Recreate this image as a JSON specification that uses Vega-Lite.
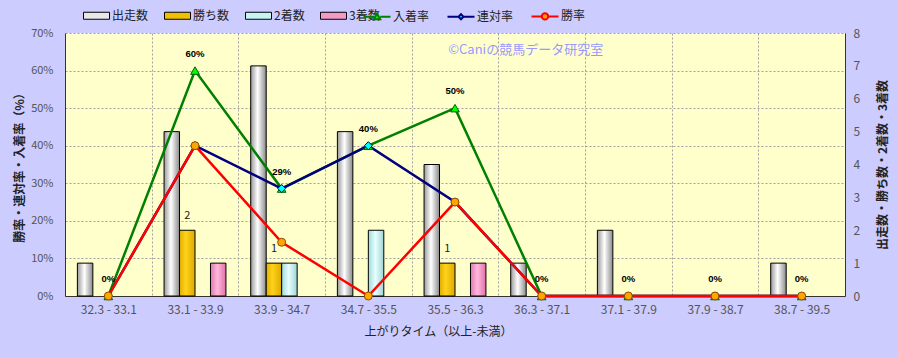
{
  "$schema": "https://vega.github.io/schema/vega-lite/v6.json",
  "width": 780,
  "height": 263,
  "autosize": {"type": "none"},
  "padding": {"left": 65, "top": 33, "right": 53, "bottom": 62},
  "background": "#ccccff",
  "config": {
    "view": {"fill": "#ffffcc", "stroke": null},
    "font": "Noto Sans CJK JP",
    "axis": {
      "labelFont": "Noto Sans CJK JP",
      "titleFont": "Noto Sans CJK JP",
      "domainColor": "#333333",
      "tickColor": "#333333",
      "labelColor": "#555555",
      "titleColor": "#222222",
      "gridColor": "#a0a0a0",
      "gridDash": [2, 2],
      "labelOverlap": false
    }
  },
  "data": {
    "values": [
      {"cat": "32.3 - 33.1", "出走数": 1, "勝ち数": 0, "2着数": 0, "3着数": 0, "入着率": 0, "連対率": 0, "勝率": 0},
      {"cat": "33.1 - 33.9", "出走数": 5, "勝ち数": 2, "2着数": 0, "3着数": 1, "入着率": 0.6, "連対率": 0.4, "勝率": 0.4},
      {"cat": "33.9 - 34.7", "出走数": 7, "勝ち数": 1, "2着数": 1, "3着数": 0, "入着率": 0.286, "連対率": 0.286, "勝率": 0.143},
      {"cat": "34.7 - 35.5", "出走数": 5, "勝ち数": 0, "2着数": 2, "3着数": 0, "入着率": 0.4, "連対率": 0.4, "勝率": 0},
      {"cat": "35.5 - 36.3", "出走数": 4, "勝ち数": 1, "2着数": 0, "3着数": 1, "入着率": 0.5, "連対率": 0.25, "勝率": 0.25},
      {"cat": "36.3 - 37.1", "出走数": 1, "勝ち数": 0, "2着数": 0, "3着数": 0, "入着率": 0, "連対率": 0, "勝率": 0},
      {"cat": "37.1 - 37.9", "出走数": 2, "勝ち数": 0, "2着数": 0, "3着数": 0, "入着率": 0, "連対率": 0, "勝率": 0},
      {"cat": "37.9 - 38.7", "出走数": 0, "勝ち数": 0, "2着数": 0, "3着数": 0, "入着率": 0, "連対率": 0, "勝率": 0},
      {"cat": "38.7 - 39.5", "出走数": 1, "勝ち数": 0, "2着数": 0, "3着数": 0, "入着率": 0, "連対率": 0, "勝率": 0}
    ]
  },
  "layer": [
    {
      "transform": [
        {"fold": ["出走数", "勝ち数", "2着数", "3着数"], "as": ["series", "count"]},
        {"filter": "datum.count > 0"}
      ],
      "layer": [
        {
          "transform": [{"filter": "datum.series === '出走数'"}],
          "mark": {"type": "bar", "stroke": "#000000", "strokeWidth": 1,
            "color": {"gradient": "linear", "x1": 0, "y1": 0, "x2": 1, "y2": 0, "stops": [{"offset": 0, "color": "#9a9a9a"}, {"offset": 0.45, "color": "#ffffff"}, {"offset": 1, "color": "#8a8a8a"}]}},
          "encoding": {
            "x": {
              "field": "cat",
              "type": "nominal",
              "scale": {
                "domain": ["32.3 - 33.1", "33.1 - 33.9", "33.9 - 34.7", "34.7 - 35.5", "35.5 - 36.3", "36.3 - 37.1", "37.1 - 37.9", "37.9 - 38.7", "38.7 - 39.5"],
                "paddingInner": 0,
                "paddingOuter": 0
              },
              "axis": {
                "title": "上がりタイム（以上-未満）",
                "labelAngle": 0,
                "ticks": false,
                "tickBand": "extent",
                "grid": true,
                "labelFontSize": 12,
                "titleFontSize": 12,
                "titleFontWeight": "normal",
                "labelPadding": 8,
                "titlePadding": 11,
                "titleX": 373
              }
            },
            "xOffset": {
              "field": "series",
              "type": "nominal",
              "scale": {"domain": ["出走数", "勝ち数", "2着数", "3着数"], "paddingInner": 0, "paddingOuter": 0.8}
            },
            "y": {
              "field": "count",
              "type": "quantitative",
              "scale": {"domain": [0, 8]},
              "axis": {
                "orient": "right",
                "title": "出走数・勝ち数・2着数・3着数",
                "titleAngle": 270,
                "values": [0, 1, 2, 3, 4, 5, 6, 7, 8],
                "tickCount": 9,
                "labelOverlap": false,
                "grid": false,
                "ticks": false,
                "labelPadding": 8,
                "titlePadding": 30,
                "labelFontSize": 12,
                "titleFontSize": 12,
                "titleFontWeight": "bold"
              }
            }
          }
        },
        {
          "transform": [{"filter": "datum.series === '勝ち数'"}],
          "mark": {"type": "bar", "stroke": "#000000", "strokeWidth": 1,
            "color": {"gradient": "linear", "x1": 0, "y1": 0, "x2": 1, "y2": 0, "stops": [{"offset": 0, "color": "#e0b000"}, {"offset": 0.4, "color": "#ffd21a"}, {"offset": 1, "color": "#dcaa00"}]}},
          "encoding": {
            "x": {"field": "cat", "type": "nominal"},
            "xOffset": {"field": "series", "type": "nominal"},
            "y": {"field": "count", "type": "quantitative"}
          }
        },
        {
          "transform": [{"filter": "datum.series === '2着数'"}],
          "mark": {"type": "bar", "stroke": "#000000", "strokeWidth": 1,
            "color": {"gradient": "linear", "x1": 0, "y1": 0, "x2": 1, "y2": 0, "stops": [{"offset": 0, "color": "#9fd8d8"}, {"offset": 0.45, "color": "#e8ffff"}, {"offset": 1, "color": "#9fd4d4"}]}},
          "encoding": {
            "x": {"field": "cat", "type": "nominal"},
            "xOffset": {"field": "series", "type": "nominal"},
            "y": {"field": "count", "type": "quantitative"}
          }
        },
        {
          "transform": [{"filter": "datum.series === '3着数'"}],
          "mark": {"type": "bar", "stroke": "#000000", "strokeWidth": 1,
            "color": {"gradient": "linear", "x1": 0, "y1": 0, "x2": 1, "y2": 0, "stops": [{"offset": 0, "color": "#e078b0"}, {"offset": 0.45, "color": "#ffb8dc"}, {"offset": 1, "color": "#e070a8"}]}},
          "encoding": {
            "x": {"field": "cat", "type": "nominal"},
            "xOffset": {"field": "series", "type": "nominal"},
            "y": {"field": "count", "type": "quantitative"}
          }
        },
        {
          "transform": [{"filter": "false"}],
          "mark": {"type": "bar", "stroke": "#000000", "strokeWidth": 1},
          "encoding": {
            "x": {"field": "cat", "type": "nominal"},
            "xOffset": {"field": "series", "type": "nominal"},
            "y": {"field": "count", "type": "quantitative"},
            "color": {
              "field": "series",
              "type": "nominal",
              "scale": {"domain": ["出走数", "勝ち数", "2着数", "3着数"], "range": ["#e8e8e8", "#f0c000", "#c8f4f4", "#f59ac8"]},
              "legend": {
                "orient": "none",
                "legendX": 21,
                "legendY": -28,
                "direction": "horizontal",
                "title": null,
                "padding": 0,
                "symbolType": "M-1.3,-0.35H1.3V0.35H-1.3Z",
                "symbolSize": 400,
                "symbolStrokeColor": "#000000",
                "symbolStrokeWidth": 1,
                "labelOffset": 5,
                "columnPadding": 13,
                "labelFontSize": 12,
                "labelFont": "Noto Sans CJK JP",
                "labelColor": "#222222",
                "encode": {
                  "symbols": {
                    "update": {
                      "shape": {"value": "M-1.3,-0.35H1.3V0.35H-1.3Z"},
                      "stroke": {"value": "#000000"},
                      "strokeWidth": {"value": 1},
                      "fill": {"signal": "datum.value === '出走数' ? {gradient: 'linear', x1: 0, y1: 0, x2: 1, y2: 0, stops: [{offset: 0, color: '#9a9a9a'}, {offset: 0.45, color: '#ffffff'}, {offset: 1, color: '#8a8a8a'}]} : datum.value === '勝ち数' ? {gradient: 'linear', x1: 0, y1: 0, x2: 1, y2: 0, stops: [{offset: 0, color: '#e0b000'}, {offset: 0.4, color: '#ffd21a'}, {offset: 1, color: '#dcaa00'}]} : datum.value === '2着数' ? {gradient: 'linear', x1: 0, y1: 0, x2: 1, y2: 0, stops: [{offset: 0, color: '#9fd8d8'}, {offset: 0.45, color: '#e8ffff'}, {offset: 1, color: '#9fd4d4'}]} : {gradient: 'linear', x1: 0, y1: 0, x2: 1, y2: 0, stops: [{offset: 0, color: '#e078b0'}, {offset: 0.45, color: '#ffb8dc'}, {offset: 1, color: '#e070a8'}]}"}
                    }
                  }
                }
              }
            }
          }
        },
        {
          "transform": [{"filter": "datum.series === '勝ち数'"}],
          "mark": {"type": "text", "fontSize": 11, "color": "#222222", "dy": -14},
          "encoding": {
            "x": {"field": "cat", "type": "nominal"},
            "xOffset": {"field": "series", "type": "nominal"},
            "y": {"field": "count", "type": "quantitative"},
            "text": {"field": "count", "type": "quantitative"}
          }
        }
      ]
    },
    {
      "layer": [
        {
          "transform": [{"fold": ["入着率", "連対率", "勝率"], "as": ["rseries", "rate"]}],
          "mark": {"type": "line", "strokeWidth": 2.5},
          "encoding": {
            "x": {"field": "cat", "type": "nominal"},
            "y": {
              "field": "rate",
              "type": "quantitative",
              "scale": {"domain": [0, 0.7]},
              "axis": {
                "orient": "left",
                "title": "勝率・連対率・入着率（%）",
                "values": [0, 0.1, 0.2, 0.3, 0.4, 0.5, 0.6, 0.7],
                "tickCount": 8,
                "labelOverlap": false,
                "format": ".0%",
                "grid": true,
                "ticks": false,
                "labelPadding": 12,
                "titlePadding": 4,
                "labelFontSize": 11,
                "titleFontSize": 12,
                "titleFontWeight": "bold"
              }
            },
            "stroke": {
              "field": "rseries",
              "type": "nominal",
              "scale": {"domain": ["入着率", "連対率", "勝率"], "range": ["#008000", "#000080", "#ff0000"]},
              "legend": {
                "orient": "none",
                "legendX": 301,
                "legendY": -28,
                "direction": "horizontal",
                "title": null,
                "padding": 0,
                "symbolSize": 400,
                "symbolStrokeWidth": 2,
                "labelOffset": 5,
                "columnPadding": 13,
                "labelFontSize": 12,
                "labelFont": "Noto Sans CJK JP",
                "labelColor": "#222222",
                "encode": {
                  "symbols": {
                    "update": {
                      "shape": {"signal": "datum.value === '入着率' ? 'M-1.35,0H-0.32M0.32,0H1.35M-0.32,0.25L0,-0.32L0.32,0.25Z' : datum.value === '連対率' ? 'M-1.35,0H-0.25M0.25,0H1.35M0,-0.25L0.25,0L0,0.25L-0.25,0Z' : 'M-1.35,0H-0.32M0.32,0H1.35M0.32,0A0.32,0.32,0,1,1,-0.32,0A0.32,0.32,0,1,1,0.32,0Z'"},
                      "fill": {"signal": "datum.value === '入着率' ? '#00ff00' : datum.value === '連対率' ? '#00ffff' : '#ffa500'"},
                      "strokeWidth": {"value": 2}
                    }
                  }
                }
              }
            }
          }
        },
        {
          "mark": {"type": "point", "shape": "triangle-up", "filled": true, "fill": "#00ff00", "stroke": "#006000", "strokeWidth": 1, "size": 75, "opacity": 1},
          "encoding": {
            "x": {"field": "cat", "type": "nominal"},
            "y": {"field": "入着率", "type": "quantitative", "title": "勝率・連対率・入着率（%）"}
          }
        },
        {
          "mark": {"type": "point", "shape": "diamond", "filled": true, "fill": "#00ffff", "stroke": "#000080", "strokeWidth": 1, "size": 64, "opacity": 1},
          "encoding": {
            "x": {"field": "cat", "type": "nominal"},
            "y": {"field": "連対率", "type": "quantitative", "title": "勝率・連対率・入着率（%）"}
          }
        },
        {
          "mark": {"type": "point", "shape": "circle", "filled": true, "fill": "#ffa500", "stroke": "#8a4a00", "strokeWidth": 1, "size": 64, "opacity": 1},
          "encoding": {
            "x": {"field": "cat", "type": "nominal"},
            "y": {"field": "勝率", "type": "quantitative", "title": "勝率・連対率・入着率（%）"}
          }
        },
        {
          "mark": {"type": "text", "font": "Liberation Sans", "fontSize": 9.5, "fontWeight": "bold", "color": "#000000", "dy": -17},
          "encoding": {
            "x": {"field": "cat", "type": "nominal"},
            "y": {"field": "入着率", "type": "quantitative", "title": "勝率・連対率・入着率（%）"},
            "text": {"field": "入着率", "type": "quantitative", "format": ".0%"}
          }
        },
        {
          "data": {"values": [{"t": "©Caniの競馬データ研究室", "c": "36.3 - 37.1", "v": 0.655}]},
          "mark": {"type": "text", "fontSize": 13, "color": "#9999ff", "dx": -16},
          "encoding": {
            "x": {"field": "c", "type": "nominal"},
            "y": {"field": "v", "type": "quantitative", "title": "勝率・連対率・入着率（%）"},
            "text": {"field": "t", "type": "nominal"}
          }
        }
      ]
    }
  ],
  "resolve": {"scale": {"y": "independent"}}
}
